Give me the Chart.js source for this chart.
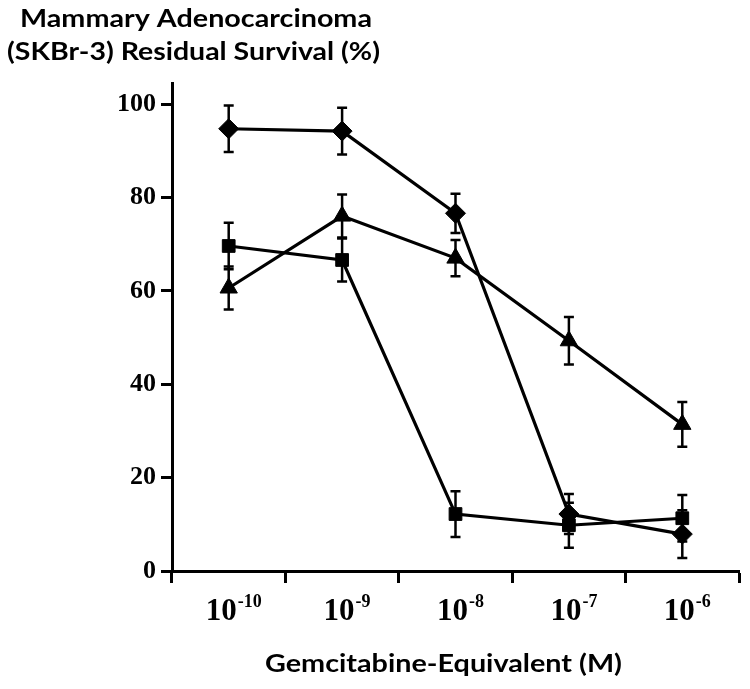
<!DOCTYPE html>
<html>
<head>
<meta charset="utf-8">
<script src="https://cdn.jsdelivr.net/npm/chart.js@4/dist/chart.umd.min.js"></script>
<style>
  html, body { margin: 0; padding: 0; background: #fff; }
  #wrap { width: 750px; height: 689px; position: relative; }
</style>
</head>
<body>
<div id="wrap"><canvas id="chart" width="750" height="689"></canvas></div>
<script>
// concentrations: 10^exp (M)
const tickBase = '10';
const tickExponents = ['-10', '-9', '-8', '-7', '-6'];

const yTicks = [0, 20, 40, 60, 80, 100];

const diamondVals = [94.7, 94.2, 76.6, 12.2, 7.9];
const diamondErr  = [5.0, 5.0, 4.2, 4.3, 5.1];

const squareVals = [69.6, 66.6, 12.2, 9.8, 11.3];
const squareErr  = [5.0, 4.6, 4.9, 4.8, 5.0];

const triangleVals = [60.6, 76.0, 67.0, 49.3, 31.4];
const triangleErr  = [4.6, 4.6, 3.9, 5.1, 4.8];

const yTitleLines = ['Mammary Adenocarcinoma', '(SKBr-3) Residual Survival (%)'];
const xTitle = 'Gemcitabine-Equivalent (M)';

const INK = '#000';
const SANS = 'Lato, "Open Sans", sans-serif';
const SERIF = '"Liberation Serif", "DejaVu Serif", serif';

function series(label, data, errs, style, radius){
  return {
    label, data, errs,
    borderColor: INK,
    borderWidth: 3.2,
    pointStyle: style,
    pointRadius: radius,
    pointBackgroundColor: INK,
    pointBorderColor: INK,
    pointBorderWidth: 1,
    tension: 0,
    fill: false
  };
}

// error bars, drawn under the markers
const errorBars = {
  id: 'errorBars',
  beforeDatasetsDraw(chart){
    const {ctx, scales:{x, y}} = chart;
    ctx.save();
    ctx.strokeStyle = INK;
    ctx.lineWidth = 2.5;
    chart.data.datasets.forEach(ds => {
      ds.data.forEach((v, i) => {
        const e = ds.errs[i];
        const px = x.getPixelForValue(i);
        const top = y.getPixelForValue(v + e);
        const bot = y.getPixelForValue(v - e);
        ctx.beginPath();
        ctx.moveTo(px, top); ctx.lineTo(px, bot);
        ctx.moveTo(px - 5, top); ctx.lineTo(px + 5, top);
        ctx.moveTo(px - 5, bot); ctx.lineTo(px + 5, bot);
        ctx.stroke();
      });
    });
    ctx.restore();
  }
};

// text stretched to the width it has in the figure
function fitText(ctx, text, cx, baseline, width){
  const w = ctx.measureText(text).width;
  ctx.save();
  ctx.translate(cx, baseline);
  ctx.scale(width / w, 1);
  ctx.textAlign = 'center';
  ctx.fillText(text, 0, 0);
  ctx.restore();
}

// titles and the 10^n tick labels
const labels = {
  id: 'labels',
  afterDraw(chart){
    const {ctx, scales:{x}} = chart;
    ctx.save();
    ctx.fillStyle = INK;
    ctx.textBaseline = 'alphabetic';
    ctx.font = 'bold 24px ' + SANS;
    fitText(ctx, yTitleLines[0], 196, 27, 352);
    fitText(ctx, yTitleLines[1], 193.5, 60, 373);
    fitText(ctx, xTitle, 443.5, 672, 357);

    const baseFont = 'bold 31px ' + SERIF;
    const supFont = 'bold 18px ' + SERIF;
    const baseY = x.bottom + 37;
    tickExponents.forEach((ex, i) => {
      ctx.font = baseFont;
      const wb = ctx.measureText(tickBase).width;
      ctx.font = supFont;
      const ws = ctx.measureText(ex).width;
      const left = x.getPixelForValue(i) + 5 - (wb + ws + 1) / 2;
      ctx.textAlign = 'left';
      ctx.font = baseFont;
      ctx.fillText(tickBase, left, baseY);
      ctx.font = supFont;
      ctx.fillText(ex, left + wb + 1, baseY - 13);
    });
    ctx.restore();
  }
};

new Chart(document.getElementById('chart'), {
  type: 'line',
  data: {
    labels: tickExponents.map(e => tickBase + '^' + e),
    datasets: [
      series('Diamond', diamondVals, diamondErr, 'rectRot', 10),
      series('Square', squareVals, squareErr, 'rect', 9),
      series('Triangle', triangleVals, triangleErr, 'triangle', 10)
    ]
  },
  options: {
    responsive: false,
    animation: false,
    devicePixelRatio: 1,
    layout: { padding: { left: 112, right: 11, top: 83, bottom: 106 } },
    plugins: { legend: { display: false }, tooltip: { enabled: false }, title: { display: false } },
    scales: {
      x: {
        type: 'category',
        offset: true,
        grid: { offset: true, drawOnChartArea: false, drawTicks: true, tickLength: 12, tickWidth: 3, color: INK },
        border: { display: true, width: 3, color: INK },
        ticks: { display: false }
      },
      y: {
        min: 0,
        max: 104.5,
        afterBuildTicks(scale){ scale.ticks = yTicks.map(v => ({value: v})); },
        grid: { drawOnChartArea: false, drawTicks: true, tickLength: 11, tickWidth: 3, color: INK },
        border: { display: true, width: 3, color: INK },
        ticks: { color: INK, padding: 5, font: { family: SERIF, size: 26, weight: 'bold' } }
      }
    }
  },
  plugins: [errorBars, labels]
});
</script>
</body>
</html>
